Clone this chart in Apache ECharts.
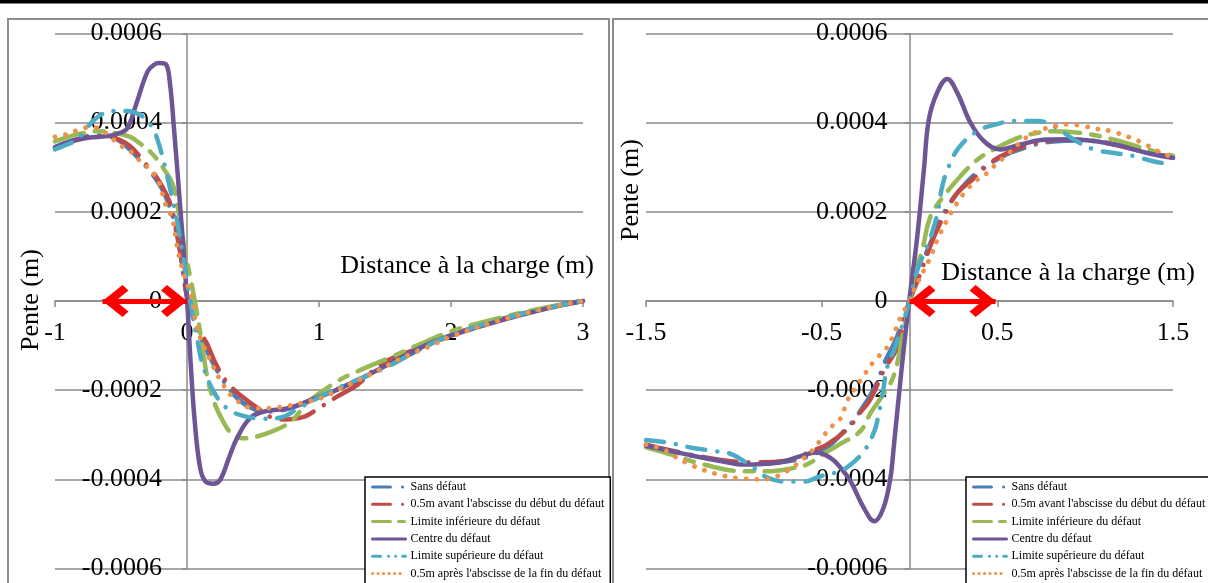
<!DOCTYPE html>
<html><head><meta charset="utf-8">
<script src="https://cdn.jsdelivr.net/npm/echarts@6/dist/echarts.min.js"></script>
<style>html,body{margin:0;padding:0;background:#fff}#c{width:1208px;height:583px}</style>
</head><body><div id="c"></div>
<script>
// ---------- names ----------
const seriesNames = [
  'Sans défaut',
  "0.5m avant l'abscisse du début du défaut",
  'Limite inférieure du défaut',
  'Centre du défaut',
  'Limite supérieure du défaut',
  "0.5m après l'abscisse de la fin du défaut"
];
const xTitle = 'Distance à la charge (m)';
const yTitle = 'Pente (m)';

// ---------- left chart data [distance, pente] ----------
const L_sans = [[-1,0.000345],[-0.9,0.000356],[-0.8,0.000366],[-0.7,0.000372],[-0.6,0.000371],[-0.5,0.000357],[-0.4,0.000330],[-0.3,0.000298],[-0.2,0.000257],[-0.15,0.000226],[-0.1,0.000180],[-0.05,0.000105],[0,0.000010],[0.05,-0.000040],[0.1,-0.000080],[0.16,-0.000117],[0.24,-0.000162],[0.36,-0.000212],[0.48,-0.000239],[0.6,-0.000248],[0.75,-0.000243],[0.9,-0.000228],[1.1,-0.000203],[1.4,-0.000163],[1.7,-0.000118],[2.0,-0.000077],[2.3,-0.000048],[2.6,-0.000024],[2.8,-0.000011],[3.0,0]];
const L_avant = [[-1,0.000343],[-0.9,0.000355],[-0.8,0.000364],[-0.7,0.000370],[-0.6,0.000369],[-0.5,0.000360],[-0.43,0.000347],[-0.35,0.000322],[-0.3,0.000303],[-0.23,0.000277],[-0.15,0.000235],[-0.1,0.000190],[-0.05,0.000110],[0,0.000012],[0.08,-0.000059],[0.15,-0.000095],[0.22,-0.000142],[0.31,-0.000185],[0.42,-0.000215],[0.54,-0.000241],[0.7,-0.000266],[0.87,-0.000261],[1.0,-0.000240],[1.14,-0.000214],[1.29,-0.000188],[1.48,-0.000140],[1.69,-0.000113],[2.0,-0.000077],[2.3,-0.000048],[2.6,-0.000024],[2.8,-0.000011],[3.0,0]];
const L_inf = [[-1,0.000358],[-0.9,0.000368],[-0.8,0.000376],[-0.66,0.000381],[-0.55,0.000377],[-0.43,0.000368],[-0.35,0.000352],[-0.26,0.000329],[-0.18,0.000298],[-0.1,0.000255],[-0.05,0.000170],[0,0.000090],[0.05,0.000015],[0.1,-0.000070],[0.15,-0.000165],[0.2,-0.000222],[0.27,-0.000268],[0.34,-0.000298],[0.42,-0.000308],[0.5,-0.000306],[0.65,-0.000292],[0.78,-0.000272],[0.85,-0.000250],[0.9,-0.000230],[1.14,-0.000180],[1.29,-0.000158],[1.56,-0.000124],[1.74,-0.000100],[2.0,-0.000068],[2.3,-0.000043],[2.6,-0.000022],[2.8,-0.000010],[3.0,0]];
const L_centre = [[-1,0.000345],[-0.9,0.000357],[-0.75,0.000366],[-0.6,0.000370],[-0.5,0.000378],[-0.45,0.000388],[-0.38,0.000446],[-0.3,0.000514],[-0.25,0.000530],[-0.21,0.000534],[-0.16,0.000531],[-0.13,0.000490],[-0.1,0.000392],[-0.04,0.000167],[0,0.000005],[0.03,-0.000150],[0.06,-0.000275],[0.1,-0.000375],[0.14,-0.000405],[0.2,-0.000410],[0.25,-0.000402],[0.32,-0.000350],[0.38,-0.000307],[0.48,-0.000262],[0.6,-0.000247],[0.76,-0.000241],[0.93,-0.000223],[1.13,-0.000200],[1.39,-0.000163],[1.84,-0.000095],[2.1,-0.000068],[2.5,-0.000034],[2.8,-0.000012],[3.0,0]];
const L_sup = [[-1,0.000340],[-0.9,0.000352],[-0.83,0.000363],[-0.75,0.000392],[-0.65,0.000418],[-0.55,0.000426],[-0.45,0.000426],[-0.38,0.000421],[-0.32,0.000410],[-0.27,0.000392],[-0.23,0.000368],[-0.17,0.000305],[-0.11,0.000228],[-0.08,0.000188],[-0.03,0.000100],[0,0.000045],[0.04,-0.000025],[0.08,-0.000090],[0.12,-0.000144],[0.2,-0.000202],[0.3,-0.000240],[0.42,-0.000257],[0.58,-0.000264],[0.7,-0.000262],[0.85,-0.000240],[1.06,-0.000207],[1.2,-0.000188],[1.5,-0.000150],[1.8,-0.000103],[2.0,-0.000077],[2.3,-0.000048],[2.6,-0.000024],[2.8,-0.000011],[3.0,0]];
const L_apres = [[-1,0.000368],[-0.91,0.000374],[-0.83,0.000383],[-0.73,0.000390],[-0.66,0.000386],[-0.58,0.000368],[-0.51,0.000350],[-0.43,0.000336],[-0.37,0.000318],[-0.3,0.000300],[-0.24,0.000280],[-0.2,0.000257],[-0.17,0.000222],[-0.11,0.000183],[-0.08,0.000130],[-0.04,0.000077],[0.04,0.000000],[0.07,-0.000054],[0.11,-0.000090],[0.17,-0.000129],[0.25,-0.000176],[0.36,-0.000219],[0.52,-0.000241],[0.68,-0.000239],[0.88,-0.000228],[1.03,-0.000216],[1.18,-0.000194],[1.36,-0.000169],[1.52,-0.000144],[1.67,-0.000122],[1.82,-0.000104],[2.0,-0.000080],[2.3,-0.000050],[2.6,-0.000025],[2.8,-0.000011],[3.0,0]];

// ---------- right chart data [distance, pente] ----------
const R_sans = [[-1.5,-0.000323],[-1.3,-0.000342],[-1.1,-0.000356],[-0.9,-0.000364],[-0.7,-0.000360],[-0.55,-0.000345],[-0.45,-0.000322],[-0.39,-0.000299],[-0.3,-0.000258],[-0.2,-0.000195],[-0.137,-0.000134],[-0.08,-0.000089],[-0.04,-0.000045],[0,0],[0.063,0.000077],[0.1,0.000112],[0.2,0.000200],[0.3,0.000255],[0.4,0.000293],[0.5,0.000318],[0.6,0.000336],[0.8,0.000357],[1.0,0.000360],[1.2,0.000349],[1.35,0.000334],[1.5,0.000322]];
const R_avant = [[-1.5,-0.000322],[-1.2,-0.000348],[-0.9,-0.000362],[-0.7,-0.000358],[-0.55,-0.000335],[-0.47,-0.000322],[-0.345,-0.000284],[-0.288,-0.000254],[-0.222,-0.000220],[-0.146,-0.000156],[-0.07,-0.000104],[-0.032,-0.000044],[0,0],[0.05,0.000050],[0.11,0.000114],[0.148,0.000152],[0.205,0.000197],[0.271,0.000242],[0.357,0.000272],[0.462,0.000310],[0.557,0.000332],[0.7,0.000352],[0.9,0.000362],[1.1,0.000356],[1.3,0.000338],[1.5,0.000322]];
const R_inf = [[-1.5,-0.000328],[-1.35,-0.000345],[-1.17,-0.000367],[-0.94,-0.000382],[-0.81,-0.000382],[-0.68,-0.000376],[-0.58,-0.000366],[-0.5,-0.000345],[-0.4,-0.000322],[-0.28,-0.000292],[-0.22,-0.000250],[-0.15,-0.000210],[-0.09,-0.000168],[-0.04,-0.000080],[0,-0.000005],[0.025,0.000054],[0.072,0.000114],[0.12,0.000190],[0.195,0.000235],[0.29,0.000280],[0.386,0.000317],[0.48,0.000340],[0.594,0.000362],[0.689,0.000374],[0.822,0.000381],[0.974,0.000377],[1.164,0.000362],[1.354,0.000340],[1.5,0.000326]];
const R_centre = [[-1.5,-0.000325],[-1.4,-0.000333],[-1.27,-0.000344],[-1.1,-0.000357],[-0.94,-0.000367],[-0.75,-0.000363],[-0.62,-0.000348],[-0.53,-0.000340],[-0.45,-0.000352],[-0.39,-0.000375],[-0.336,-0.000404],[-0.26,-0.000464],[-0.2,-0.000494],[-0.15,-0.000466],[-0.11,-0.000400],[-0.09,-0.000329],[-0.042,-0.000141],[0,0.000005],[0.044,0.000144],[0.082,0.000295],[0.11,0.000407],[0.158,0.000468],[0.215,0.000498],[0.271,0.000468],[0.347,0.000400],[0.423,0.000359],[0.518,0.000340],[0.632,0.000351],[0.785,0.000362],[0.936,0.000362],[1.164,0.000351],[1.354,0.000332],[1.5,0.000321]];
const R_sup = [[-1.5,-0.000312],[-1.37,-0.000318],[-1.24,-0.000329],[-1.1,-0.000337],[-1.01,-0.000344],[-0.906,-0.000369],[-0.81,-0.000396],[-0.7,-0.000405],[-0.6,-0.000405],[-0.507,-0.000393],[-0.43,-0.000386],[-0.355,-0.000373],[-0.26,-0.000337],[-0.2,-0.000292],[-0.176,-0.000254],[-0.15,-0.000200],[-0.127,-0.000149],[-0.089,-0.000111],[-0.05,-0.000066],[0,0],[0.044,0.000069],[0.1,0.000122],[0.139,0.000167],[0.167,0.000212],[0.186,0.000257],[0.224,0.000302],[0.281,0.000344],[0.386,0.000381],[0.49,0.000396],[0.604,0.000404],[0.727,0.000404],[0.822,0.000392],[0.936,0.000362],[1.05,0.000340],[1.164,0.000332],[1.278,0.000325],[1.392,0.000313],[1.5,0.000306]];
const R_apres = [[-1.5,-0.000322],[-1.4,-0.000333],[-1.34,-0.000348],[-1.23,-0.000370],[-1.1,-0.000388],[-0.96,-0.000398],[-0.83,-0.000400],[-0.7,-0.000382],[-0.6,-0.000352],[-0.54,-0.000329],[-0.49,-0.000303],[-0.45,-0.000284],[-0.39,-0.000262],[-0.355,-0.000224],[-0.28,-0.000179],[-0.2,-0.000134],[-0.127,-0.000104],[-0.089,-0.000074],[-0.05,-0.000036],[0,0],[0.025,0.000024],[0.082,0.000069],[0.12,0.000099],[0.158,0.000137],[0.215,0.000182],[0.271,0.000220],[0.328,0.000250],[0.385,0.000272],[0.442,0.000287],[0.49,0.000306],[0.547,0.000325],[0.614,0.000350],[0.67,0.000368],[0.746,0.000383],[0.822,0.000392],[0.898,0.000396],[0.993,0.000392],[1.069,0.000386],[1.145,0.000381],[1.259,0.000366],[1.335,0.000353],[1.392,0.000340],[1.5,0.000321]];

// axis ranges / ticks [min, max, interval]
const L_xRange = [-1, 3, 1];
const R_xRange = [-1.5, 1.5, 1];
const yRange = [-0.0006, 0.0006, 0.0002];
// red double arrows (distance range along zero slope)
const L_arrow = [-0.64, 0];
const R_arrow = [0, 0.49];

const leftData = [L_sans, L_avant, L_inf, L_centre, L_sup, L_apres];
const rightData = [R_sans, R_avant, R_inf, R_centre, R_sup, R_apres];

const styles = [
  {color:'#4a7ebb', type:[34,12,0.1,12], width:4.5, leg:[18,12,0.1,20]},
  {color:'#be4b48', type:[34,12,0.1,12], width:4.5, leg:[18,12,0.1,20]},
  {color:'#98b954', type:[30,11,9,11], width:4.5, leg:[18,8,6,20]},
  {color:'#6e5595', type:'solid', width:4.5, leg:'solid'},
  {color:'#4aacc5', type:[18,12,0.1,12], width:4.5, leg:[8,8,0.1,7,0.1,7,5,20]},
  {color:'#f0914a', type:[0.1,10.6], width:4.8, leg:[0.1,5.4]}
];

const FONT = '"Liberation Serif","Times New Roman",serif';
const chev = 'path://M10,0 L20,10 L16.5,13 L10,6.5 L3.5,13 L0,10 Z M10,-13';

const G = { // plot geometry (pixels)
  L: {left: 55, width: 528}, R: {left: 646, width: 527}, top: 33.5, height: 535
};

function buildSeries(dataArr, gi) {
  return dataArr.map((d, i) => ({
    name: seriesNames[i], type: 'line', xAxisIndex: gi, yAxisIndex: gi,
    data: d, smooth: 0.4, symbol: 'none', showSymbol: false,
    lineStyle: {color: styles[i].color, type: styles[i].type, width: styles[i].width, cap: 'round', join: 'round'},
    itemStyle: {color: styles[i].color},
    animation: false, silent: true
  }));
}
function arrowSeries(range, gi) {
  return {
    type: 'line', xAxisIndex: gi, yAxisIndex: gi, data: [], silent: true, animation: false, z: 5,
    markLine: {
      silent: true, animation: false, symbol: [chev, chev], symbolSize: [32, 52],
      label: {show: false},
      lineStyle: {color: '#ff0000', width: 5, type: 'solid', opacity: 1},
      emphasis: {disabled: true},
      data: [[{coord: [range[0], 0]}, {coord: [range[1], 0]}]]
    }
  };
}
function xAxis(gi, r, offset) {
  return {
    type: 'value', gridIndex: gi, min: r[0], max: r[1], interval: r[2], position: 'bottom', offset: offset,
    axisLine: {onZero: false, lineStyle: {color: '#8a8a8a', width: 1.5}},
    axisTick: {show: true, length: 6, lineStyle: {color: '#8a8a8a', width: 1.5}},
    splitLine: {show: false},
    axisLabel: {color: '#000', fontFamily: FONT, fontSize: 26, margin: 19,
      formatter: v => String(Math.round(v * 10) / 10)}
  };
}
function yAxis(gi, offset, margin) {
  return {
    type: 'value', gridIndex: gi, min: yRange[0], max: yRange[1], interval: yRange[2], position: 'left', offset: offset,
    axisLine: {onZero: false, lineStyle: {color: '#8a8a8a', width: 1.5}},
    axisTick: {show: true, length: 5, lineStyle: {color: '#8a8a8a', width: 1.5}},
    splitLine: {show: true, lineStyle: {color: '#8a8a8a', width: 1.5}},
    axisLabel: {color: '#000', fontFamily: FONT, fontSize: 26, margin: margin,
      formatter: v => Math.abs(v) < 1e-9 ? '0' : v.toFixed(4)}
  };
}
function legend(left) {
  return {
    data: seriesNames.map((n, i) => ({name: n, lineStyle: {color: styles[i].color, type: styles[i].leg, width: 3, cap: 'round'}})),
    orient: 'vertical', left: left, top: 477, height: 160,
    itemWidth: 33, itemHeight: 12, itemGap: 5.3,
    padding: [4, 6, 12, 6],
    borderColor: '#000', borderWidth: 1.5, backgroundColor: '#fff',
    itemStyle: {opacity: 0},
    textStyle: {fontFamily: FONT, fontSize: 12, color: '#000'},
    selectedMode: false
  };
}
const titleText = (txt, x, y, rot) => ({
  type: 'text', x: x, y: y, rotation: rot || 0, silent: true, z: 10,
  style: {text: txt, font: '26px ' + FONT, fill: '#000', align: 'center', verticalAlign: 'middle'}
});

const option = {
  animation: false,
  backgroundColor: '#fff',
  grid: [
    {left: G.L.left, width: G.L.width, top: G.top, height: G.height, containLabel: false, outerBoundsMode: 'none'},
    {left: G.R.left, width: G.R.width, top: G.top, height: G.height, containLabel: false, outerBoundsMode: 'none'}
  ],
  xAxis: [xAxis(0, L_xRange, -(G.height / 2)), xAxis(1, R_xRange, -(G.height / 2))],
  yAxis: [
    yAxis(0, -(G.L.width * (0 - L_xRange[0]) / (L_xRange[1] - L_xRange[0])), 25),
    yAxis(1, -(G.R.width * (0 - R_xRange[0]) / (R_xRange[1] - R_xRange[0])), 22)
  ],
  legend: [legend(365), legend(966)],
  series: [].concat(buildSeries(leftData, 0), buildSeries(rightData, 1), [arrowSeries(L_arrow, 0), arrowSeries(R_arrow, 1)]),
  graphic: [
    {type: 'rect', shape: {x: 0, y: 0, width: 1208, height: 3.5}, style: {fill: '#000'}, silent: true},
    {type: 'rect', shape: {x: 8, y: 19, width: 601, height: 620}, style: {fill: 'none', stroke: '#8c8c8c', lineWidth: 2}, silent: true, z: -1},
    {type: 'rect', shape: {x: 613, y: 19, width: 600, height: 620}, style: {fill: 'none', stroke: '#8c8c8c', lineWidth: 2}, silent: true, z: -1},
    titleText(yTitle, 31, 300, Math.PI / 2),
    titleText(yTitle, 631, 190, Math.PI / 2),
    titleText(xTitle, 467, 266),
    titleText(xTitle, 1068, 273)
  ]
};
const chart = echarts.init(document.getElementById('c'), null, {renderer: 'canvas'});
chart.setOption(option);
</script>
</body></html>
